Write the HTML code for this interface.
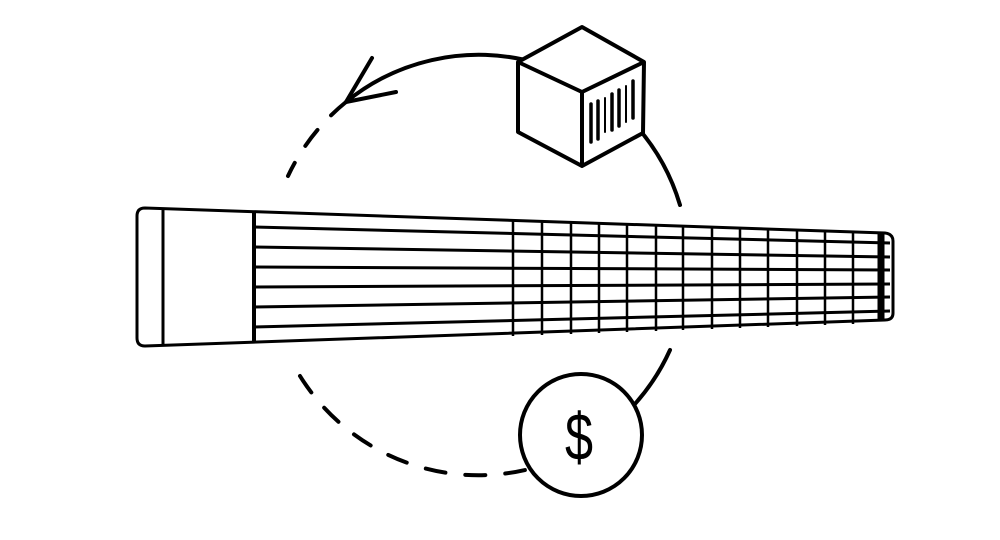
<!DOCTYPE html>
<html><head><meta charset="utf-8"><style>html,body{margin:0;padding:0;background:#fff}svg{display:block}</style></head>
<body>
<svg width="1000" height="540" viewBox="0 0 1000 540" xmlns="http://www.w3.org/2000/svg">
<g fill="none" stroke="#000" stroke-width="4" stroke-linecap="round">
<path d="M346,102 A210,210 0 0 1 680,205"/>
<path d="M670,350 A210,210 0 0 1 634,405"/>
<path d="M346,102 A210,210 0 0 0 288,176" stroke-dasharray="20,20"/>
<path d="M300,376 A210,210 0 0 0 525,470" stroke-dasharray="20,20"/>
<path d="M372,58 L346,102 L396,92" stroke-linejoin="round"/>
</g>
<!-- cube -->
<g stroke="#000" stroke-width="4" stroke-linejoin="round" fill="#fff">
<path d="M582,27 L644,62 L643,133 L582,166 L518,132 L518,62 Z"/>
<path d="M518,62 L582,92 L644,62 M582,92 L582,166" fill="none"/>
</g>
<g stroke="#000" stroke-linecap="round">
<line x1="591" y1="104" x2="591" y2="142" stroke-width="3.5"/>
<line x1="598" y1="101" x2="598" y2="139" stroke-width="3.5"/>
<line x1="605" y1="98" x2="605" y2="132" stroke-width="2"/>
<line x1="612" y1="94" x2="612" y2="130" stroke-width="3.5"/>
<line x1="619" y1="90" x2="619" y2="126" stroke-width="3.5"/>
<line x1="626" y1="86" x2="626" y2="122" stroke-width="2"/>
<line x1="633" y1="81" x2="633" y2="118" stroke-width="3.5"/>
</g>
<!-- fretboard -->
<path d="M145,208 L885,233 Q893,234 893,241 L893,313 Q893,320 885,320 L145,346 Q137,346 137,338 L137,216 Q137,208 145,208 Z" fill="#fff" stroke="#000" stroke-width="3"/>
<g stroke="#000" stroke-width="3">
<line x1="163" y1="209" x2="163" y2="345"/>
<line x1="254" y1="212" x2="254" y2="342" stroke-width="4"/>
<line x1="254" y1="227" x2="890" y2="243"/>
<line x1="254" y1="247" x2="890" y2="257"/>
<line x1="254" y1="267" x2="890" y2="270"/>
<line x1="254" y1="287" x2="890" y2="284"/>
<line x1="254" y1="307" x2="890" y2="297"/>
<line x1="254" y1="327" x2="890" y2="311"/>
</g>
<g stroke="#000" stroke-width="2.5">
<line x1="513" y1="219" x2="513" y2="336"/>
<line x1="542" y1="220" x2="542" y2="335"/>
<line x1="571" y1="221" x2="571" y2="334"/>
<line x1="599" y1="222" x2="599" y2="333"/>
<line x1="627" y1="223" x2="627" y2="332"/>
<line x1="656" y1="224" x2="656" y2="331"/>
<line x1="683" y1="225" x2="683" y2="330"/>
<line x1="712" y1="226" x2="712" y2="329"/>
<line x1="740" y1="227" x2="740" y2="328"/>
<line x1="768" y1="228" x2="768" y2="327"/>
<line x1="797" y1="229" x2="797" y2="326"/>
<line x1="825" y1="230" x2="825" y2="325"/>
<line x1="853" y1="231" x2="853" y2="324"/>
<line x1="881" y1="233" x2="881" y2="321" stroke-width="7"/>
</g>
<!-- dollar -->
<circle cx="581" cy="435" r="61" fill="#fff" stroke="#000" stroke-width="4"/>
<text x="0" y="0" transform="translate(579,460) scale(0.9,1.2)" font-family="Liberation Sans, sans-serif" font-size="56" text-anchor="middle" fill="#000">$</text>
</svg>
</body></html>
